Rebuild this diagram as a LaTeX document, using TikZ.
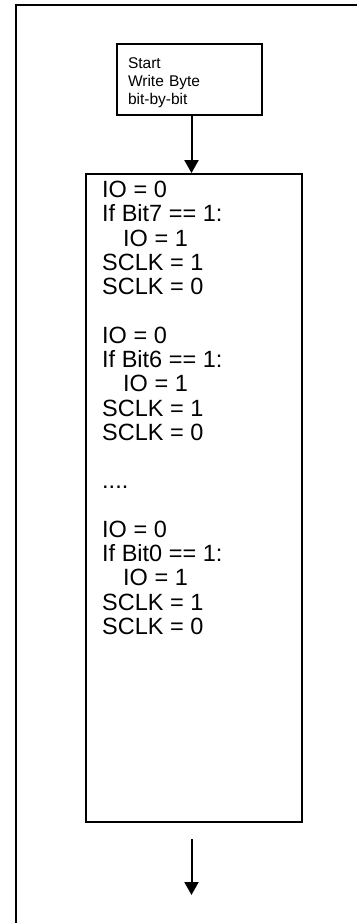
\documentclass[tikz,border=0pt]{standalone}
\usepackage{fontspec}
\setmainfont{Liberation Sans}
\usetikzlibrary{arrows.meta}
\begin{document}
\begin{tikzpicture}[x=1pt,y=-1pt,
  frame/.style={line width=2pt},
  box/.style={draw, rectangle, line width=1.5pt, inner sep=0pt},
  flow/.style={line width=2pt, -{Triangle[width=14pt,length=13pt]}},
  small/.style={font=\fontsize{15.5}{18}\selectfont},
  big/.style={font=\fontsize{23.5}{24.3}\selectfont},
  ]
\useasboundingbox (0,0) rectangle (356,923);
% outer frame, open to the right and bottom
\draw[frame] (16,930) -- (16,5) -- (365,5);

% start box
\node[box, small, minimum width=145pt, minimum height=71pt,
      text width=123pt, align=left] (start) at (189.5,79.5)
  {\rule{0pt}{16.5pt}Start\\Write Byte\\bit-by-bit};

% main procedure box
\node[box, line width=1.8pt, minimum width=216pt, minimum height=648pt] (main) at (194,498) {};

\node[big, anchor=north west, inner sep=0pt, align=left] (code) at (102,181)
  {IO = 0\\
   If Bit7 == 1:\\
   \hspace*{21pt}IO = 1\\
   SCLK = 1\\
   SCLK = 0\\[24.1pt]
   IO = 0\\
   If Bit6 == 1:\\
   \hspace*{21pt}IO = 1\\
   SCLK = 1\\
   SCLK = 0\\[24.1pt]
   ....\\[24.1pt]
   IO = 0\\
   If Bit0 == 1:\\
   \hspace*{21pt}IO = 1\\
   SCLK = 1\\
   SCLK = 0};

% connectors
\draw[flow] ([xshift=2pt]start.south) -- ([xshift=-2.5pt]main.north);
\coordinate (exitTop) at (191.5,839);
\coordinate (exitEnd) at (191.5,895);
\draw[flow] (exitTop) -- (exitEnd);
\end{tikzpicture}
\end{document}
